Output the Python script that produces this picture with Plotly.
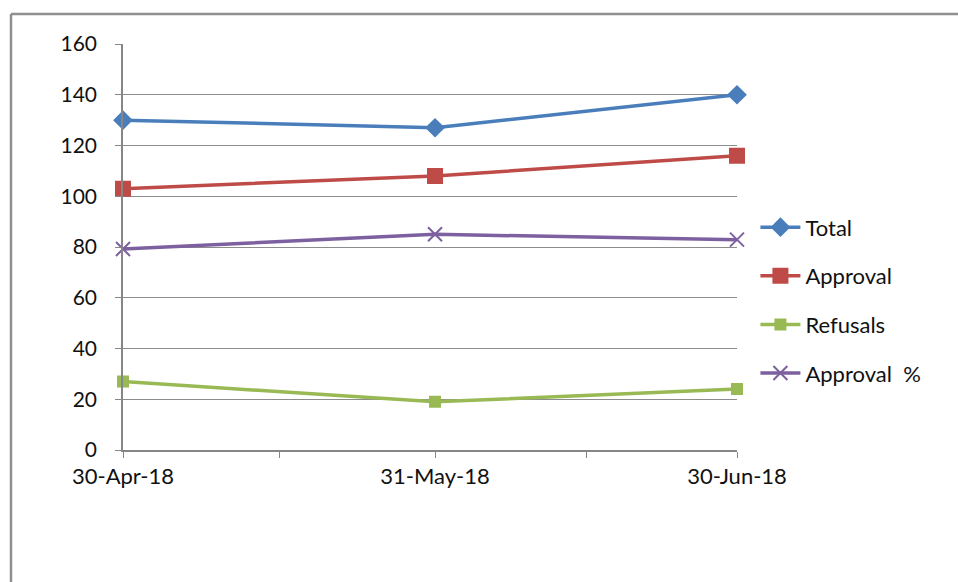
import plotly.graph_objects as go

# Month-end reporting dates
dates = ["2018-04-30", "2018-05-31", "2018-06-30"]
date_labels = ["30-Apr-18", "31-May-18", "30-Jun-18"]
mid_ticks = ["2018-05-15 12:00", "2018-06-15"]

total = [130, 127, 140]
approval = [103, 108, 116]
refusals = [27, 19, 24]
approval_pct = [79.2, 85.0, 82.9]

y_ticks = [0, 20, 40, 60, 80, 100, 120, 140, 160]

series = [
    ("Total", total, "#4A7EBB", "diamond", 13),
    ("Approval", approval, "#BE4B48", "square", 14),
    ("Refusals", refusals, "#98B954", "square", 10),
    ("Approval  %", approval_pct, "#7D60A0", "x-thin", 14),
]

fig = go.Figure()
for i, (name, vals, color, sym, size) in enumerate(series):
    fig.add_trace(go.Scatter(
        x=dates, y=vals, name=name, mode="lines+markers",
        line=dict(color=color, width=3.5),
        marker=dict(symbol=sym, size=size, color=color,
                    line=dict(color=color, width=2)),
        cliponaxis=False, legendgroup=f"g{i}",
    ))

font_family = "Lato, 'Open Sans', sans-serif"

fig.update_layout(
    width=958, height=582,
    margin=dict(l=123, r=221, t=44, b=132),
    paper_bgcolor="white", plot_bgcolor="white",
    font=dict(family=font_family, size=21, color="#111111"),
    showlegend=True,
    legend=dict(
        x=1.03, y=0.6, xanchor="left", yanchor="top",
        tracegroupgap=17, itemwidth=40,
        font=dict(family=font_family, size=22, color="#111111"),
        bgcolor="rgba(0,0,0,0)",
    ),
    xaxis=dict(
        type="date", range=[dates[0], dates[-1]],
        tickvals=dates + mid_ticks, ticktext=date_labels + ["", ""],
        ticks="outside", ticklen=6, tickcolor="#868686",
        showline=True, linecolor="#868686", linewidth=1.5,
        showgrid=False, zeroline=False,
        tickfont=dict(size=22),
    ),
    yaxis=dict(
        range=[0, 160], tickvals=y_ticks,
        ticks="outside", ticklen=6, tickcolor="#868686",
        showline=True, linecolor="#868686", linewidth=1.5,
        showgrid=True, gridcolor="#8c8c8c", gridwidth=1,
        zeroline=False, ticklabelstandoff=14,
        tickfont=dict(size=21),
    ),
    shapes=[
        # chart frame (top and left edges)
        dict(type="line", xref="paper", yref="paper",
             x0=-0.1824, x1=1.4, y0=1.0739, y1=1.0739,
             line=dict(color="#8f8f8f", width=2.5)),
        dict(type="line", xref="paper", yref="paper",
             x0=-0.1824, x1=-0.1824, y0=1.0739, y1=-0.35,
             line=dict(color="#8f8f8f", width=2.5)),
    ],
)

fig.write_html("out.html")
